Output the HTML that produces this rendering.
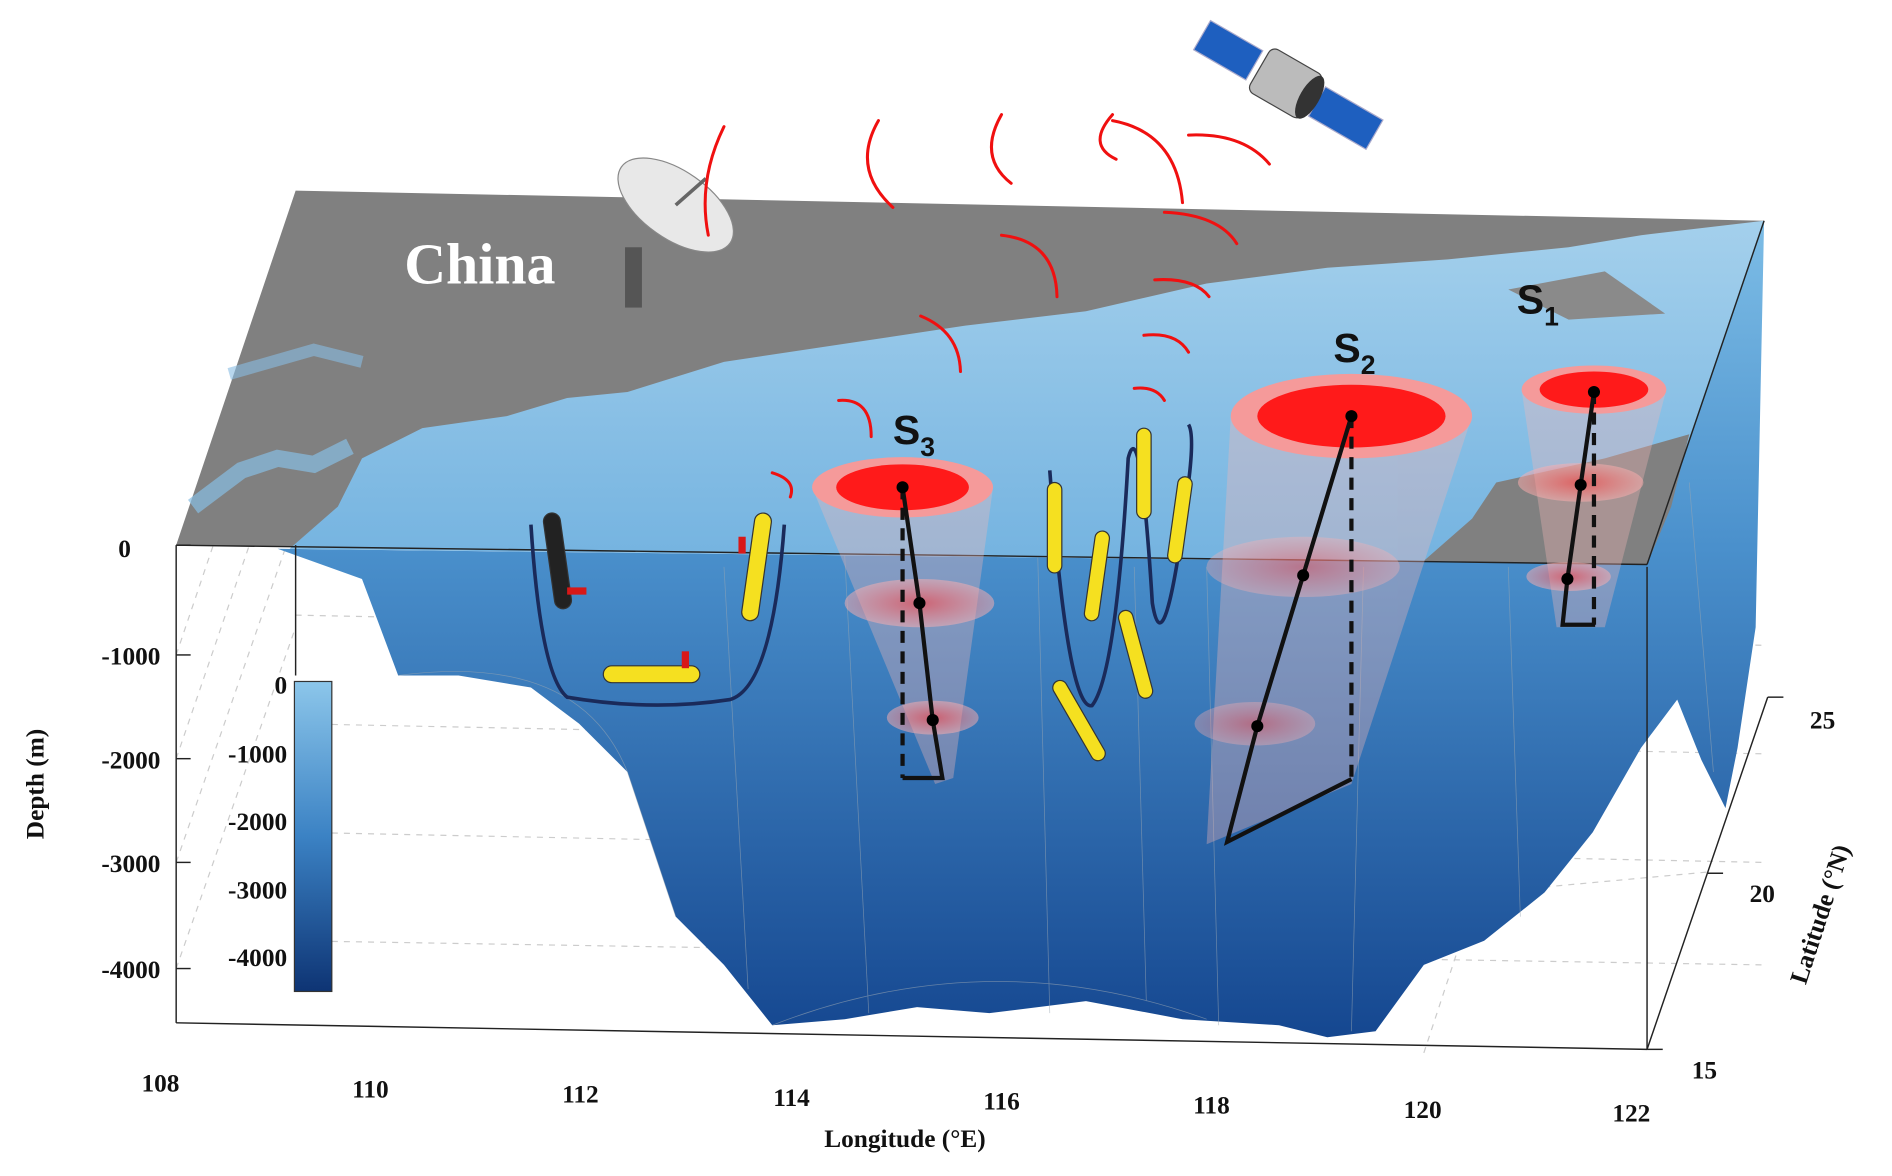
<!DOCTYPE html>
<html><head><meta charset="utf-8"><style>
html,body{margin:0;padding:0;background:#fff;width:1892px;height:1176px;overflow:hidden}
svg{display:block}
.ax{font-family:"Liberation Serif",serif;font-weight:bold;font-size:21px;fill:#111}
.sl{font-family:"Liberation Sans",sans-serif;font-weight:bold;fill:#111}
</style></head><body>
<svg width="1892" height="1176" viewBox="0 0 1568 975" preserveAspectRatio="none" xmlns="http://www.w3.org/2000/svg">
<defs>
<linearGradient id="deep" x1="0" y1="0" x2="0" y2="1">
<stop offset="0" stop-color="#7dbde6"/><stop offset="0.4" stop-color="#4a90cc"/><stop offset="1" stop-color="#154790"/></linearGradient>
<linearGradient id="cb" x1="0" y1="0" x2="0" y2="1">
<stop offset="0" stop-color="#8cc6ea"/><stop offset="0.5" stop-color="#3b82c4"/><stop offset="1" stop-color="#0e3474"/></linearGradient>
<linearGradient id="surf" x1="0" y1="0" x2="0" y2="1">
<stop offset="0" stop-color="#a4d0ec"/><stop offset="1" stop-color="#74b3e0"/></linearGradient>
<radialGradient id="pk"><stop offset="0" stop-color="#ff4040" stop-opacity="0.6"/><stop offset="1" stop-color="#ffb0b0" stop-opacity="0.5"/></radialGradient>
</defs>
<g stroke="#ccc" stroke-dasharray="5,5" stroke-width="1" fill="none">
<line x1="146" y1="543" x2="245" y2="250"/><line x1="146" y1="629" x2="245" y2="340"/>
<line x1="146" y1="715" x2="245" y2="430"/><line x1="146" y1="803" x2="245" y2="520"/>
<line x1="245" y1="510" x2="1462" y2="535"/><line x1="245" y1="600" x2="1462" y2="625"/>
<line x1="245" y1="690" x2="1462" y2="715"/><line x1="245" y1="780" x2="1462" y2="800"/>
<line x1="1180" y1="873" x2="1270" y2="600"/><line x1="1230" y1="740" x2="1415" y2="723"/>
</g>
<path d="M230,455 L300,480 L330,560 L380,560 L440,570 L480,600 L520,640 L560,760 L600,800 L640,850 L700,845 L760,835 L820,840 L900,830 L980,845 L1060,850 L1100,860 L1140,855 L1180,800 L1230,780 L1280,740 L1320,690 L1360,620 L1390,580 L1410,630 L1430,670 L1440,620 L1455,520 L1462,183 L1365,468 Z" fill="url(#deep)"/>
<g stroke="#9aa7b3" stroke-width="0.6" opacity="0.6" fill="none">
<path d="M330,560 Q480,540 520,640"/><path d="M520,640 L560,760"/><path d="M640,850 Q820,780 1000,845"/>
<path d="M700,460 L720,840"/><path d="M860,460 L870,840"/><path d="M1000,470 L1010,850"/><path d="M1130,470 L1120,855"/>
<path d="M1250,470 L1260,760"/><path d="M1400,400 L1420,640"/><path d="M600,470 L620,820"/><path d="M940,470 L950,830"/>
</g>
<polygon points="245,158 1462,183 1365,468 146,452" fill="#808080"/>
<path d="M240,455 L280,420 L300,380 L350,355 L420,345 L470,330 L520,325 L600,300 L700,285 L800,270 L900,258 L1000,235 L1100,222 L1200,215 L1300,205 L1360,195 L1462,183 L1365,468 Z" fill="url(#surf)"/>
<path d="M160,420 L200,390 L230,380 L260,385 L290,370" stroke="#88bde2" stroke-width="14" fill="none" opacity="0.7"/>
<path d="M190,310 L260,290 L300,300" stroke="#88bde2" stroke-width="10" fill="none" opacity="0.6"/>
<polygon points="1240,400 1330,380 1400,360 1385,420 1365,468 1180,465 1220,430" fill="#808080"/>
<polygon points="1250,240 1330,225 1380,260 1300,265" fill="#8a8a8a"/>
<g stroke="#222" stroke-width="1.2" fill="none">
<line x1="146" y1="452" x2="1365" y2="468"/>
<line x1="1365" y1="468" x2="1462" y2="183"/>
<line x1="146" y1="452" x2="146" y2="848"/>
<line x1="146" y1="848" x2="1365" y2="870"/>
<line x1="1365" y1="470" x2="1365" y2="870"/>
<line x1="1365" y1="870" x2="1465" y2="578"/>
<line x1="245" y1="452" x2="245" y2="560"/>
</g>
<g stroke="#222" stroke-width="1.2">
<line x1="146" y1="452" x2="158" y2="452"/><line x1="146" y1="543" x2="158" y2="543"/><line x1="146" y1="629" x2="158" y2="629"/><line x1="146" y1="715" x2="158" y2="715"/><line x1="146" y1="803" x2="158" y2="803"/>
<line x1="1365" y1="870" x2="1378" y2="870"/><line x1="1415" y1="724" x2="1428" y2="724"/><line x1="1465" y1="578" x2="1478" y2="578"/>
</g>
<text class="ax" x="98" y="462">0</text>
<text class="ax" x="133" y="551" text-anchor="end">-1000</text>
<text class="ax" x="133" y="637" text-anchor="end">-2000</text>
<text class="ax" x="133" y="723" text-anchor="end">-3000</text>
<text class="ax" x="133" y="811" text-anchor="end">-4000</text>
<text class="ax" x="36" y="650" transform="rotate(-90 36 650)" text-anchor="middle" font-size="22">Depth (m)</text>
<text class="ax" x="133" y="905" text-anchor="middle">108</text>
<text class="ax" x="307" y="910" text-anchor="middle">110</text>
<text class="ax" x="481" y="914" text-anchor="middle">112</text>
<text class="ax" x="656" y="917" text-anchor="middle">114</text>
<text class="ax" x="830" y="920" text-anchor="middle">116</text>
<text class="ax" x="1004" y="923" text-anchor="middle">118</text>
<text class="ax" x="1179" y="927" text-anchor="middle">120</text>
<text class="ax" x="1352" y="930" text-anchor="middle">122</text>
<text class="ax" x="750" y="951" text-anchor="middle" font-size="24">Longitude (°E)</text>
<text class="ax" x="1500" y="604">25</text>
<text class="ax" x="1450" y="748">20</text>
<text class="ax" x="1402" y="894">15</text>
<text class="ax" x="1515" y="760" transform="rotate(-72 1515 760)" text-anchor="middle" font-size="24">Latitude (°N)</text>
<rect x="244" y="565" width="31" height="257" fill="url(#cb)" stroke="#333" stroke-width="1"/>
<text class="ax" x="238" y="575" text-anchor="end">0</text>
<text class="ax" x="238" y="632" text-anchor="end">-1000</text>
<text class="ax" x="238" y="688" text-anchor="end">-2000</text>
<text class="ax" x="238" y="745" text-anchor="end">-3000</text>
<text class="ax" x="238" y="801" text-anchor="end">-4000</text>
<text x="335" y="235" font-family="Liberation Serif,serif" font-weight="bold" font-size="48" fill="#fff">China</text>
<g>
<rect x="518" y="205" width="14" height="50" fill="#555"/>
<ellipse cx="560" cy="170" rx="55" ry="28" transform="rotate(35 560 170)" fill="#e8e8e8" stroke="#888"/>
<line x1="560" y1="170" x2="585" y2="148" stroke="#666" stroke-width="3"/>
</g>
<g transform="rotate(30 1065 70)">
<rect x="985" y="55" width="50" height="28" fill="#1e5fbf" stroke="#aac" />
<rect x="1095" y="55" width="55" height="28" fill="#1e5fbf" stroke="#aac"/>
<rect x="1040" y="48" width="50" height="42" rx="6" fill="#bbb" stroke="#444"/>
<ellipse cx="1088" cy="69" rx="8" ry="20" fill="#333"/>
</g>
<g stroke="#f01010" stroke-width="2.5" fill="none" stroke-linecap="round">
<path d="M600,105 Q578,150 587,195"/><path d="M728,100 Q705,140 740,172"/>
<path d="M830,95 Q810,130 838,152"/><path d="M922,95 Q900,120 925,132"/>
<path d="M922,100 Q975,110 980,168"/><path d="M985,112 Q1030,110 1052,136"/>
<path d="M830,195 Q875,200 876,246"/><path d="M965,176 Q1010,178 1025,202"/>
<path d="M957,232 Q990,230 1002,246"/><path d="M948,278 Q975,275 985,292"/>
<path d="M940,322 Q958,320 965,332"/><path d="M763,262 Q795,275 796,308"/>
<path d="M695,332 Q722,330 722,362"/><path d="M640,392 Q660,398 655,412"/>
</g>
<path d="M440,435 Q448,560 470,578 Q540,590 605,580 Q640,570 650,435" stroke="#1a2a5a" stroke-width="3" fill="none"/>
<path d="M870,390 Q885,590 905,585 Q925,560 935,380 Q945,340 955,500 Q965,560 985,400 Q990,360 985,352" stroke="#1a2a5a" stroke-width="3" fill="none"/>
<g fill="#f5e020" stroke="#333" stroke-width="1">
<rect x="455" y="425" width="14" height="80" rx="7" transform="rotate(-8 462 465)" fill="#222"/>
<rect x="500" y="552" width="80" height="14" rx="7"/>
<rect x="620" y="425" width="14" height="90" rx="7" transform="rotate(8 627 470)"/>
<rect x="868" y="400" width="12" height="75" rx="6"/>
<rect x="903" y="440" width="12" height="75" rx="6" transform="rotate(8 909 478)"/>
<rect x="942" y="355" width="12" height="75" rx="6"/>
<rect x="972" y="395" width="12" height="72" rx="6" transform="rotate(8 978 430)"/>
<rect x="935" y="505" width="12" height="75" rx="6" transform="rotate(-15 941 542)"/>
<rect x="888" y="560" width="12" height="75" rx="6" transform="rotate(-30 894 597)"/>
</g>
<g fill="#d81818"><rect x="470" y="487" width="16" height="6"/><rect x="565" y="540" width="6" height="14"/><rect x="612" y="445" width="6" height="14"/></g>
<g fill="#f4b6b6" opacity="0.35">
<path d="M673,404 L775,650 L790,645 L823,404 Z"/>
<path d="M1020,345 L1000,700 L1120,650 L1220,345 Z"/>
<path d="M1261,323 L1290,520 L1330,520 L1381,323 Z"/>
</g>
<ellipse cx="748" cy="404" rx="75" ry="25" fill="#f59a9a"/><ellipse cx="748" cy="404" rx="55" ry="19" fill="#ff1a1a"/>
<ellipse cx="762" cy="500" rx="62" ry="20" fill="url(#pk)"/><ellipse cx="773" cy="595" rx="38" ry="14" fill="url(#pk)"/>
<ellipse cx="1120" cy="345" rx="100" ry="35" fill="#f59a9a"/><ellipse cx="1120" cy="345" rx="78" ry="26" fill="#ff1a1a"/>
<ellipse cx="1080" cy="470" rx="80" ry="25" fill="url(#pk)" opacity="0.7"/><ellipse cx="1040" cy="600" rx="50" ry="18" fill="url(#pk)" opacity="0.7"/>
<ellipse cx="1321" cy="323" rx="60" ry="20" fill="#f59a9a"/><ellipse cx="1321" cy="323" rx="45" ry="15" fill="#ff1a1a"/>
<ellipse cx="1310" cy="400" rx="52" ry="16" fill="url(#pk)"/><ellipse cx="1300" cy="478" rx="35" ry="12" fill="url(#pk)"/>
<g stroke="#111" stroke-width="3.5" fill="none">
<polyline points="748,404 762,500 773,597 781,645 748,645"/>
<line x1="748" y1="404" x2="748" y2="645" stroke-dasharray="10,7"/>
<polyline points="1120,345 1080,477 1042,602 1017,698 1120,646"/>
<line x1="1120" y1="345" x2="1120" y2="646" stroke-dasharray="10,7"/>
<polyline points="1321,325 1310,402 1299,480 1295,518 1322,518"/>
<line x1="1321" y1="325" x2="1321" y2="518" stroke-dasharray="10,7"/>
</g>
<g fill="#000"><circle cx="748" cy="404" r="5"/><circle cx="762" cy="500" r="5"/><circle cx="773" cy="597" r="5"/>
<circle cx="1120" cy="345" r="5"/><circle cx="1080" cy="477" r="5"/><circle cx="1042" cy="602" r="5"/>
<circle cx="1321" cy="325" r="5"/><circle cx="1310" cy="402" r="5"/><circle cx="1299" cy="480" r="5"/></g>
<text class="sl" x="740" y="368" font-size="34">S<tspan font-size="22" dy="10">3</tspan></text>
<text class="sl" x="1105" y="300" font-size="34">S<tspan font-size="22" dy="10">2</tspan></text>
<text class="sl" x="1257" y="260" font-size="34">S<tspan font-size="22" dy="10">1</tspan></text>
</svg>
</body></html>
